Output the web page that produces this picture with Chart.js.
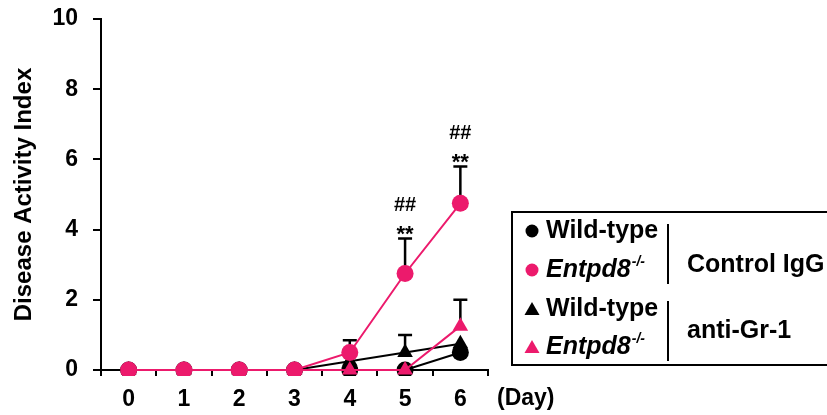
<!DOCTYPE html>
<html>
<head>
<meta charset="utf-8">
<script src="https://cdn.jsdelivr.net/npm/chart.js@4"></script>
<style>
    body { margin: 0; background: #fff; }
    #wrap { width: 827px; height: 415px; }
</style>
</head>
<body>
<div id="wrap"><canvas id="daiChart"></canvas></div>
<script>
// Dados
const dias = ['0', '1', '2', '3', '4', '5', '6'];
const wtControle = [0, 0, 0, 0, 0, 0, 0.5];
const koControle = [0, 0, 0, 0, 0.5, 2.75, 4.75];
const wtGr1 = [0, 0, 0, 0, 0.25, 0.5, 0.75];
const koGr1 = [0, 0, 0, 0, 0, 0, 1.25];

// Barras de erro (só para cima)
const wtControleErro = [0, 0, 0, 0, 0, 0, 0];
const koControleErro = [0, 0, 0, 0, 0.35, 1.0, 1.05];
const wtGr1Erro = [0, 0, 0, 0, 0, 0.5, 0];
const koGr1Erro = [0, 0, 0, 0, 0, 0, 0.75];

// Marcas de significância
const marcasDias = [5, 6];
const marcasTexto = [['##', '**'], ['##', '**']];

const ROSA = '#ec1a6c';
const PRETO = '#000000';
const FONTE = 'Arial, "Liberation Sans", sans-serif';

function serie(label, data, erro, cor, estilo, ordem) {
    return {
        label: label,
        data: data,
        erro: erro,
        borderColor: cor,
        backgroundColor: cor,
        pointBackgroundColor: cor,
        pointBorderColor: cor,
        pointBorderWidth: 0,
        pointStyle: estilo,
        pointRadius: estilo === 'triangle' ? 9 : 8.5,
        borderWidth: 2,
        tension: 0,
        order: ordem,
        clip: { left: false, top: false, right: false, bottom: 6 },
    };
}

// Plugin para barras de erro
const barrasErro = {
    id: 'barrasErro',
    beforeDatasetsDraw(chart) {
        const ctx = chart.ctx;
        const y = chart.scales.y;
        ctx.save();
        ctx.strokeStyle = PRETO;
        ctx.lineWidth = 2.5;
        chart.data.datasets.forEach((ds, i) => {
            const meta = chart.getDatasetMeta(i);
            meta.data.forEach((pt, j) => {
                const e = ds.erro[j];
                if (!e) return;
                const topo = y.getPixelForValue(ds.data[j] + e);
                ctx.beginPath();
                ctx.moveTo(pt.x, pt.y);
                ctx.lineTo(pt.x, topo);
                ctx.moveTo(pt.x - 7, topo);
                ctx.lineTo(pt.x + 7, topo);
                ctx.stroke();
            });
        });
        ctx.restore();
    },
};

// Plugin para textos extras: marcas, (Day) e legenda
const extras = {
    id: 'extras',
    afterDraw(chart) {
        const ctx = chart.ctx;
        const x = chart.scales.x;
        const y = chart.scales.y;
        ctx.save();
        ctx.fillStyle = PRETO;
        ctx.textAlign = 'center';
        ctx.textBaseline = 'alphabetic';

        // ## e ** sobre a barra de erro do Entpd8 controle
        marcasDias.forEach((d, k) => {
            const px = x.getPixelForValue(d);
            const topo = y.getPixelForValue(koControle[d] + koControleErro[d]);
            ctx.font = 'bold 20px ' + FONTE;
            ctx.fillText(marcasTexto[k][0], px, topo - 27);
            ctx.font = 'bold 22px ' + FONTE;
            ctx.fillText(marcasTexto[k][1], px, topo + 3);
        });

        // (Day)
        ctx.font = 'bold 23px ' + FONTE;
        ctx.textAlign = 'left';
        ctx.textBaseline = 'middle';
        ctx.fillText('(Day)', 497, 399);

        // Legenda
        ctx.strokeStyle = PRETO;
        ctx.lineWidth = 2;
        ctx.strokeRect(512, 212, 340, 153);

        const linhas = [
            { cor: PRETO, forma: 'circle', texto: 'Wild-type', italico: false, y: 231 },
            { cor: ROSA, forma: 'circle', texto: 'Entpd8', italico: true, y: 270 },
            { cor: PRETO, forma: 'triangle', texto: 'Wild-type', italico: false, y: 309 },
            { cor: ROSA, forma: 'triangle', texto: 'Entpd8', italico: true, y: 347 },
        ];
        linhas.forEach(l => {
            ctx.fillStyle = l.cor;
            ctx.beginPath();
            if (l.forma === 'circle') {
                ctx.arc(532, l.y, 6.5, 0, Math.PI * 2);
            } else {
                ctx.moveTo(532, l.y - 7);
                ctx.lineTo(539.5, l.y + 6);
                ctx.lineTo(524.5, l.y + 6);
                ctx.closePath();
            }
            ctx.fill();
            ctx.fillStyle = PRETO;
            ctx.textAlign = 'left';
            ctx.textBaseline = 'middle';
            ctx.font = (l.italico ? 'italic ' : '') + 'bold 25px ' + FONTE;
            ctx.fillText(l.texto, 546, l.y);
            if (l.italico) {
                const w = ctx.measureText(l.texto).width;
                ctx.font = 'italic bold 14px ' + FONTE;
                ctx.fillText('-/-', 546 + w + 1, l.y - 8);
            }
        });

        ctx.beginPath();
        ctx.moveTo(668, 224);
        ctx.lineTo(668, 284);
        ctx.moveTo(668, 301);
        ctx.lineTo(668, 361);
        ctx.stroke();

        ctx.font = 'bold 25px ' + FONTE;
        ctx.fillText('Control IgG', 687, 265);
        ctx.fillText('anti-Gr-1', 687, 331);
        ctx.restore();
    },
};

function gerarGrafico() {
    const ctx = document.getElementById('daiChart').getContext('2d');
    new Chart(ctx, {
        type: 'line',
        data: {
            labels: dias,
            datasets: [
                serie('Wild-type Control IgG', wtControle, wtControleErro, PRETO, 'circle', 2),
                serie('Entpd8-/- Control IgG', koControle, koControleErro, ROSA, 'circle', 1),
                serie('Wild-type anti-Gr-1', wtGr1, wtGr1Erro, PRETO, 'triangle', 3),
                serie('Entpd8-/- anti-Gr-1', koGr1, koGr1Erro, ROSA, 'triangle', 0),
            ],
        },
        options: {
            responsive: true,
            maintainAspectRatio: false,
            animation: false,
            layout: {
                padding: { top: 19, right: 339, left: 0, bottom: 0 },
            },
            plugins: {
                legend: { display: false },
                tooltip: { enabled: false },
            },
            scales: {
                x: {
                    offset: true,
                    afterFit: s => { s.height = 45; },
                    grid: {
                        offset: true,
                        drawOnChartArea: false,
                        tickLength: 6,
                        color: PRETO,
                        lineWidth: 2,
                    },
                    border: { color: PRETO, width: 2 },
                    ticks: {
                        color: PRETO,
                        padding: 10,
                        font: { family: FONTE, size: 23, weight: 'bold' },
                    },
                },
                y: {
                    min: 0,
                    max: 10,
                    afterFit: s => { s.width = 101; },
                    grid: {
                        drawOnChartArea: false,
                        tickLength: 8,
                        color: PRETO,
                        lineWidth: 2,
                    },
                    border: { color: PRETO, width: 2 },
                    ticks: {
                        stepSize: 2,
                        color: PRETO,
                        padding: 15,
                        font: { family: FONTE, size: 23, weight: 'bold', lineHeight: 0.2 },
                    },
                    title: {
                        display: true,
                        text: 'Disease Activity Index',
                        color: PRETO,
                        padding: { top: 10, bottom: 0 },
                        font: { family: FONTE, size: 24, weight: 'bold' },
                    },
                },
            },
        },
        plugins: [barrasErro, extras],
    });
}

window.onload = gerarGrafico;
</script>
</body>
</html>
